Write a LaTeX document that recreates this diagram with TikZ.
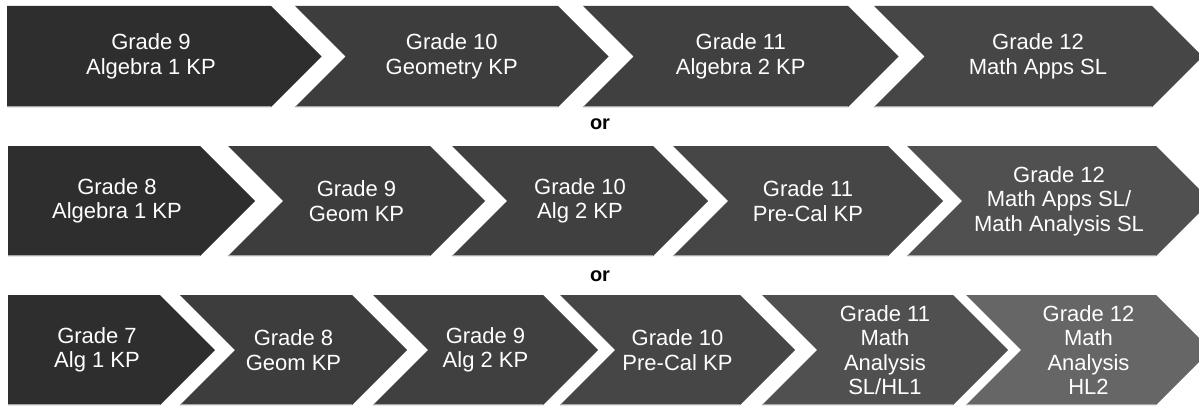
\documentclass[tikz,border=0pt]{standalone}
\usepackage{fontspec}
\setmainfont{Liberation Sans}
\begin{document}
\begin{tikzpicture}[x=1pt,y=1pt,
  lbl/.style={text=white,align=center,font=\fontsize{22}{24.5}\selectfont,inner sep=0pt},
  orlbl/.style={text=black,font=\fontsize{20}{22}\selectfont\bfseries,inner sep=0pt},
  bottomline/.style={draw=black!35,line width=0.9pt}]
\useasboundingbox (0,0) rectangle (1199,408);
\clip (0,0) rectangle (1199,408);
\definecolor{cA}{HTML}{2E2E2E}
\definecolor{cB}{HTML}{3D3D3D}
\definecolor{cC}{HTML}{404040}
\definecolor{cD}{HTML}{464646}
\definecolor{cE}{HTML}{505050}
\definecolor{cF}{HTML}{666666}
\newcommand{\mychev}[6]{%
  \fill[#1] ({#2},{#4+#5}) -- ({#3},{#4+#5}) -- ({#3+#5},{#4}) -- ({#3},{#4-#5}) -- ({#2},{#4-#5}) -- ({#2+#6},{#4}) -- cycle;
  \draw[bottomline] ({#2},{#4-#5+0.45}) -- ({#3},{#4-#5+0.45});}
% Row 1
\mychev{cA}{7}{271}{351.5}{50.5}{0}
\mychev{cB}{295}{558}{351.5}{50.5}{50.5}
\mychev{cC}{583}{848}{351.5}{50.5}{50.5}
\mychev{cD}{874}{1152}{351.5}{50.5}{50.5}
\node[lbl] (r1a) at (151,351.5) {Grade 9\\Algebra 1 KP};
\node[lbl] (r1b) at (451.75,351.5) {Grade 10\\Geometry KP};
\node[lbl] (r1c) at (740.75,351.5) {Grade 11\\Algebra 2 KP};
\node[lbl] (r1d) at (1038,351.5) {Grade 12\\Math Apps SL};
\node[orlbl] (or1) at (600,284) {or};
% Row 2
\mychev{cA}{8}{200}{207}{55}{0}
\mychev{cB}{228}{430}{207}{55}{55}
\mychev{cC}{452}{653}{207}{55}{55}
\mychev{cD}{673}{888}{207}{55}{55}
\mychev{cE}{907}{1156}{207}{55}{55}
\node[lbl] (r2a) at (117,207) {Grade 8\\Algebra 1 KP};
\node[lbl] (r2b) at (356.5,207) {Grade 9\\Geom KP};
\node[lbl] (r2c) at (580,207) {Grade 10\\Alg 2 KP};
\node[lbl] (r2d) at (808,207) {Grade 11\\Pre-Cal KP};
\node[lbl] (r2e) at (1059,207) {Grade 12\\Math Apps SL/\\Math Analysis SL};
\node[orlbl] (or2) at (600,132) {or};
% Row 3
\mychev{cA}{8}{160}{58}{55}{0}
\mychev{cB}{180}{352}{58}{55}{55}
\mychev{cC}{373}{543}{58}{55}{55}
\mychev{cD}{560}{740}{58}{55}{55}
\mychev{cE}{762}{953}{58}{55}{55}
\mychev{cF}{966}{1156}{58}{55}{55}
\node[lbl] (r3a) at (97,58) {Grade 7\\Alg 1 KP};
\node[lbl] (r3b) at (293.5,58) {Grade 8\\Geom KP};
\node[lbl] (r3c) at (485.5,58) {Grade 9\\Alg 2 KP};
\node[lbl] (r3d) at (677.5,58) {Grade 10\\Pre-Cal KP};
\node[lbl] (r3e) at (885,58) {Grade 11\\Math\\Analysis\\SL/HL1};
\node[lbl] (r3f) at (1088.5,58) {Grade 12\\Math\\Analysis\\HL2};
\end{tikzpicture}
\end{document}
